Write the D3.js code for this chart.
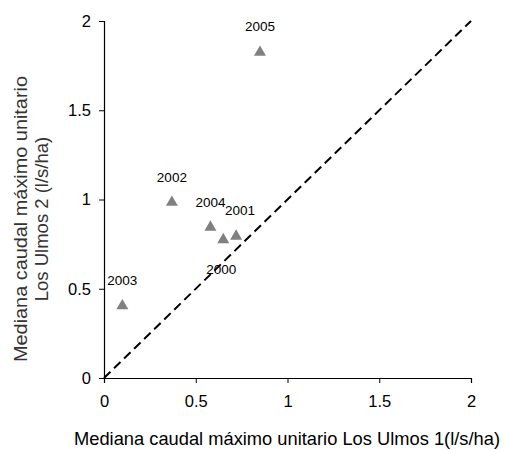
<!DOCTYPE html>
<html>
<head>
<meta charset="utf-8">
<script src="https://cdn.jsdelivr.net/npm/d3@7"></script>
<style>
  body { margin: 0; background: #fff; }
  svg { font-family: 'Liberation Sans', Arial, sans-serif; }
</style>
</head>
<body>
<div id="root"></div>
<script>
const years = ['2000', '2001', '2002', '2003', '2004', '2005'];
const ulmos1 = [0.65, 0.72, 0.37, 0.10, 0.58, 0.85];
const ulmos2 = [0.78, 0.80, 0.99, 0.41, 0.85, 1.83];
const tickValues = [0, 0.5, 1, 1.5, 2];
const identityLine = [0, 2];

// label offsets relative to each point (px)
const labelOffsets = {
  '2000': [-2, 35], '2001': [4, -20], '2002': [0, -19],
  '2003': [0, -20], '2004': [0, -19], '2005': [0, -20]
};

const dataset = years.map((y, i) => ({ year: y, x: ulmos1[i], y: ulmos2[i] }));

const svgWidth = 506;
const svgHeight = 450;
const margin = { top: 21, right: 35, bottom: 72, left: 104 };
const chartWidth = svgWidth - margin.left - margin.right;
const chartHeight = svgHeight - margin.top - margin.bottom;

const xScale = d3.scaleLinear().domain([0, 2]).range([0, chartWidth]);
const yScale = d3.scaleLinear().domain([0, 2]).range([chartHeight, 0]);

const svg = d3.select('#root').append('svg')
  .attr('width', svgWidth)
  .attr('height', svgHeight);

const chart = svg.append('g')
  .attr('transform', `translate(${margin.left}, ${margin.top})`);

const fmt = d => (d === 0 ? '0' : String(d));

const xAxis = chart.append('g')
  .attr('transform', `translate(0, ${chartHeight})`)
  .call(d3.axisBottom(xScale).tickValues(tickValues).tickFormat(fmt).tickSizeOuter(0).tickSize(5).tickPadding(12));

const yAxis = chart.append('g')
  .call(d3.axisLeft(yScale).tickValues(tickValues).tickFormat(fmt).tickSizeOuter(0).tickSize(5).tickPadding(8));

[xAxis, yAxis].forEach(a => {
  a.select('.domain').attr('stroke', '#000').attr('stroke-width', 1.2);
  a.selectAll('.tick line').attr('stroke', '#000');
  a.selectAll('.tick text').attr('fill', '#000').attr('font-size', 16.5)
    .attr('font-family', "'Liberation Sans', Arial, sans-serif");
});

chart.append('line')
  .attr('x1', xScale(identityLine[0]))
  .attr('y1', yScale(identityLine[0]))
  .attr('x2', xScale(identityLine[1]))
  .attr('y2', yScale(identityLine[1]))
  .attr('stroke', '#000')
  .attr('stroke-width', 2)
  .attr('stroke-dasharray', '9,5');

const tri = d3.symbol().type(d3.symbolTriangle).size(62);

chart.selectAll('path.pt')
  .data(dataset)
  .enter()
  .append('path')
  .attr('class', 'pt')
  .attr('d', tri)
  .attr('transform', d => `translate(${xScale(d.x)}, ${yScale(d.y) + 1})`)
  .attr('fill', '#808080');

chart.selectAll('text.lbl')
  .data(dataset)
  .enter()
  .append('text')
  .attr('class', 'lbl')
  .attr('x', d => xScale(d.x) + labelOffsets[d.year][0])
  .attr('y', d => yScale(d.y) + labelOffsets[d.year][1])
  .attr('text-anchor', 'middle')
  .attr('font-size', 13.5)
  .attr('fill', '#000')
  .text(d => d.year);

svg.append('text')
  .attr('x', 287)
  .attr('y', 445)
  .attr('text-anchor', 'middle')
  .attr('font-size', 18.5)
  .attr('textLength', 426)
  .attr('lengthAdjust', 'spacingAndGlyphs')
  .text('Mediana caudal máximo unitario Los Ulmos 1(l/s/ha)');

const yTitle = svg.append('text')
  .attr('transform', 'translate(0, 219) rotate(-90)')
  .attr('text-anchor', 'middle')
  .attr('font-size', 18.5)
  .attr('fill', '#333');

yTitle.append('tspan').attr('x', 0).attr('y', 27)
  .attr('textLength', 286).attr('lengthAdjust', 'spacingAndGlyphs')
  .text('Mediana caudal máximo unitario');
yTitle.append('tspan').attr('x', 0).attr('y', 48)
  .text('Los Ulmos 2 (l/s/ha)');
</script>
</body>
</html>
